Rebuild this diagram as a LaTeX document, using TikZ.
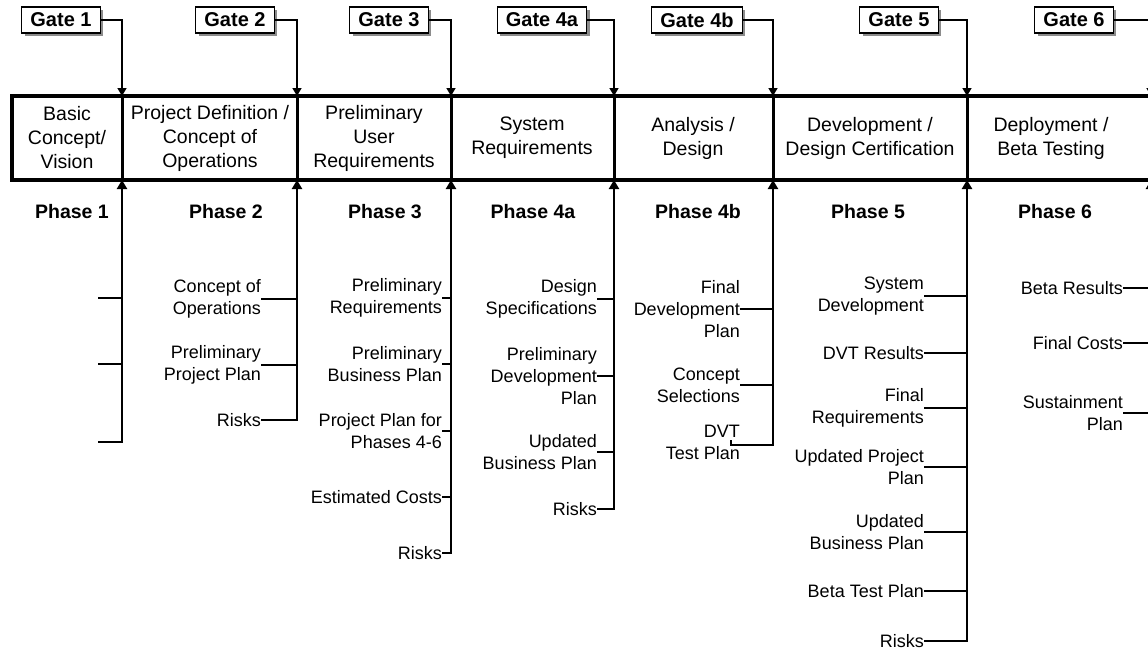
\documentclass[tikz,border=0pt]{standalone}
\usepackage{fontspec}
\setmainfont{Liberation Sans}
\usetikzlibrary{arrows.meta,shadows}

\tikzset{
  box/.style={line width=4pt,line join=miter},
  divider/.style={line width=3pt},
  gatebox/.style={draw,fill=white,line width=1.1pt,inner xsep=8.5pt,inner ysep=2pt,
    minimum height=26pt,font=\bfseries\fontsize{20}{22}\selectfont,
    drop shadow={shadow xshift=3pt,shadow yshift=-3pt,fill=black!45,opacity=1}},
  gateline/.style={line width=1.5pt,-{Triangle[width=9pt,length=8pt]}},
  phasetext/.style={align=center,inner sep=0pt,font=\fontsize{19.5}{24}\selectfont},
  phaselabel/.style={inner sep=0pt,font=\bfseries\fontsize{19.5}{22}\selectfont},
  item/.style={anchor=east,align=right,inner sep=0pt,font=\fontsize{18}{22}\selectfont},
  conn/.style={line width=1.7pt},
  spine/.style={line width=2.4pt,line cap=rect,-{Triangle[width=10pt,length=9pt]}}
}

\begin{document}
\begin{tikzpicture}[x=1pt,y=-1pt]
  \useasboundingbox (0,0) rectangle (1148,651);

  % phase band
  \draw[box] (1170,96) -- (12,96) -- (12,180) -- (1170,180);
  \foreach \x in {122,297,451,614,773,967,1151}
    \draw[divider] (\x,96) -- (\x,180);

  \node[phasetext] (b1) at (67,138)   {Basic\\Concept/\\Vision};
  \node[phasetext] (b2) at (210,138)  {Project Definition /\\Concept of\\Operations};
  \node[phasetext] (b3) at (374,138)  {Preliminary\\User\\Requirements};
  \node[phasetext] (b4a) at (532,138) {System\\Requirements};
  \node[phasetext] (b4b) at (693,138) {Analysis /\\Design};
  \node[phasetext] (b5) at (870,138)  {Development /\\Design Certification};
  \node[phasetext] (b6) at (1051,138) {Deployment /\\Beta Testing};

  % gates
  \coordinate (g1) at (122,96);
  \coordinate (g2) at (297,96);
  \coordinate (g3) at (451,96);
  \coordinate (g4a) at (614,96);
  \coordinate (g4b) at (773,96);
  \coordinate (g5) at (967,96);
  \coordinate (g6) at (1151,96);

  \node[gatebox] (gate1) at (61,20)    {Gate 1};
  \node[gatebox] (gate2) at (235,20)   {Gate 2};
  \node[gatebox] (gate3) at (389,20)   {Gate 3};
  \node[gatebox] (gate4a) at (542,20)  {Gate 4a};
  \node[gatebox] (gate4b) at (697,20)  {Gate 4b};
  \node[gatebox] (gate5) at (899,20)   {Gate 5};
  \node[gatebox] (gate6) at (1074,20)  {Gate 6};

  \draw[gateline] (gate1.east) -| (g1);
  \draw[gateline] (gate2.east) -| (g2);
  \draw[gateline] (gate3.east) -| (g3);
  \draw[gateline] (gate4a.east) -| (g4a);
  \draw[gateline] (gate4b.east) -| (g4b);
  \draw[gateline] (gate5.east) -| (g5);
  \draw[gateline] (gate6.east) -| (g6);

  % phase labels
  \node[phaselabel] (ph1) at (72,212)   {Phase 1};
  \node[phaselabel] (ph2) at (226,212)  {Phase 2};
  \node[phaselabel] (ph3) at (385,212)  {Phase 3};
  \node[phaselabel] (ph4a) at (533,212) {Phase 4a};
  \node[phaselabel] (ph4b) at (698,212) {Phase 4b};
  \node[phaselabel] (ph5) at (868,212)  {Phase 5};
  \node[phaselabel] (ph6) at (1055,212) {Phase 6};

  % deliverables
  \coordinate (s1) at (122,180);
  \coordinate (s2) at (297,180);
  \coordinate (s3) at (451,180);
  \coordinate (s4a) at (614,180);
  \coordinate (s4b) at (773,180);
  \coordinate (s5) at (967,180);
  \coordinate (s6) at (1151,180);

  % phase 1
  \coordinate (t11) at (98,298);
  \coordinate (t12) at (98,364);
  \coordinate (t13) at (98,442);
  \draw[conn] (t11) -- (t11 -| s1);
  \draw[conn] (t12) -- (t12 -| s1);
  \draw[conn] (t13) -- (t13 -| s1);
  \draw[spine] (t13 -| s1) -- (s1);

  % phase 2
  \node[item] (d21) at (261,299) {Concept of\\Operations};
  \node[item] (d22) at (261,365) {Preliminary\\Project Plan};
  \node[item] (d23) at (261,420) {Risks};
  \draw[conn] (d21.east) -- (d21.east -| s2);
  \draw[conn] (d22.east) -- (d22.east -| s2);
  \draw[conn] (d23.east) -- (d23.east -| s2);
  \draw[spine] (d23.east -| s2) -- (s2);

  % phase 3
  \node[item] (d31) at (442,298) {Preliminary\\Requirements};
  \node[item] (d32) at (442,364) {Preliminary\\Business Plan};
  \node[item] (d33) at (442,431) {Project Plan for\\Phases 4-6};
  \node[item] (d34) at (442,497) {Estimated Costs};
  \node[item] (d35) at (442,553) {Risks};
  \draw[conn] (d31.east) -- (d31.east -| s3);
  \draw[conn] (d32.east) -- (d32.east -| s3);
  \draw[conn] (d33.east) -- (d33.east -| s3);
  \draw[conn] (d34.east) -- (d34.east -| s3);
  \draw[conn] (d35.east) -- (d35.east -| s3);
  \draw[spine] (d35.east -| s3) -- (s3);

  % phase 4a
  \node[item] (d4a1) at (597,299) {Design\\Specifications};
  \node[item] (d4a2) at (597,376) {Preliminary\\Development\\Plan};
  \node[item] (d4a3) at (597,452) {Updated\\Business Plan};
  \node[item] (d4a4) at (597,509) {Risks};
  \draw[conn] (d4a1.east) -- (d4a1.east -| s4a);
  \draw[conn] (d4a2.east) -- (d4a2.east -| s4a);
  \draw[conn] (d4a3.east) -- (d4a3.east -| s4a);
  \draw[conn] (d4a4.east) -- (d4a4.east -| s4a);
  \draw[spine] (d4a4.east -| s4a) -- (s4a);

  % phase 4b
  \node[item] (d4b1) at (740,309) {Final\\Development\\Plan};
  \node[item] (d4b2) at (740,385) {Concept\\Selections};
  \node[item] (d4b3) at (740,442) {DVT\\Test Plan};
  \coordinate (e4b) at (773,445);
  \draw[conn] (d4b1.east) -- (d4b1.east -| s4b);
  \draw[conn] (d4b2.east) -- (d4b2.east -| s4b);
  \draw[conn] ([xshift=-9pt,yshift=2pt]d4b3.east) |- (e4b);
  \draw[spine] (e4b) -- (s4b);

  % phase 5
  \node[item] (d51) at (924,296) {System\\Development};
  \node[item] (d52) at (924,353) {DVT Results};
  \node[item] (d53) at (924,408) {Final\\Requirements};
  \node[item] (d54) at (924,467) {Updated Project\\Plan};
  \node[item] (d55) at (924,532) {Updated\\Business Plan};
  \node[item] (d56) at (924,591) {Beta Test Plan};
  \node[item] (d57) at (924,641) {Risks};
  \draw[conn] (d51.east) -- (d51.east -| s5);
  \draw[conn] (d52.east) -- (d52.east -| s5);
  \draw[conn] (d53.east) -- (d53.east -| s5);
  \draw[conn] (d54.east) -- (d54.east -| s5);
  \draw[conn] (d55.east) -- (d55.east -| s5);
  \draw[conn] (d56.east) -- (d56.east -| s5);
  \draw[conn] (d57.east) -- (d57.east -| s5);
  \draw[spine] (d57.east -| s5) -- (s5);

  % phase 6
  \node[item] (d61) at (1123,288) {Beta Results};
  \node[item] (d62) at (1123,343) {Final Costs};
  \node[item] (d63) at (1123,413) {Sustainment\\Plan};
  \draw[conn] (d61.east) -- (d61.east -| s6);
  \draw[conn] (d62.east) -- (d62.east -| s6);
  \draw[conn] (d63.east) -- (d63.east -| s6);
  \draw[spine] (d63.east -| s6) -- (s6);
\end{tikzpicture}
\end{document}
